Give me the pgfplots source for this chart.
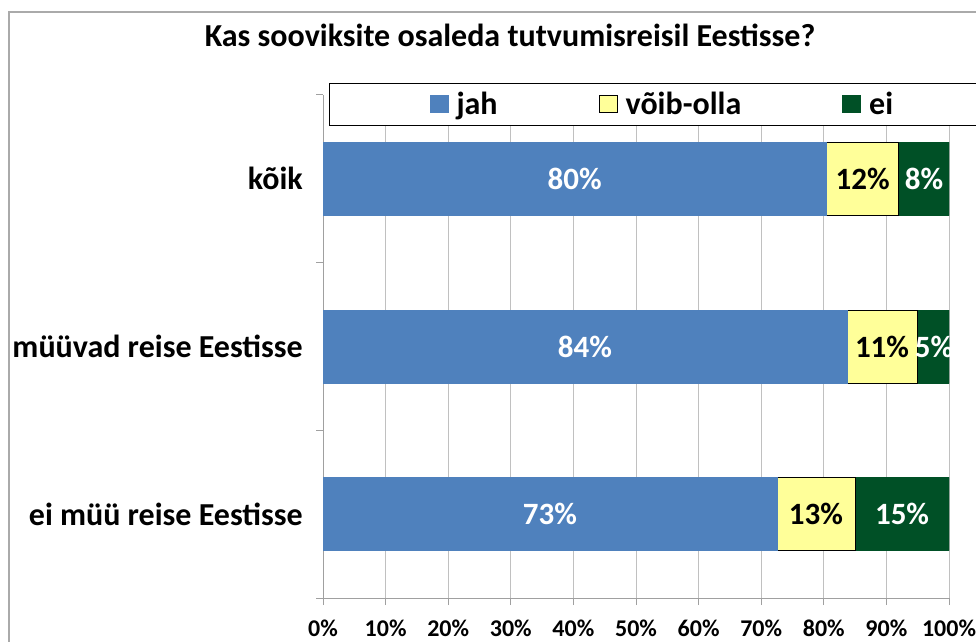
\documentclass[border=0pt]{standalone}
\usepackage{pgfplots}
\pgfplotsset{compat=1.18}
\usepackage{fontspec}
\setmainfont{Carlito}
\definecolor{cblue}{RGB}{79,129,189}
\definecolor{cyellow}{RGB}{255,255,153}
\definecolor{cgreen}{RGB}{0,80,38}
\definecolor{gridgray}{RGB}{192,192,192}
\definecolor{axisgray}{RGB}{160,160,160}
\definecolor{framegray}{RGB}{170,170,170}
\newcommand{\fs}[1]{\fontsize{#1}{#1}\selectfont\bfseries}
\pgfplotsset{
  frame/.style={at={(323pt,43pt)}, anchor=south west,
    scale only axis, width=626pt, height=503pt,
    xmin=0, xmax=100, ymin=-0.5, ymax=2.5},
}
\begin{document}
\begin{tikzpicture}[x=1pt,y=1pt]
\path[use as bounding box, clip] (0,0) rectangle (976,641);
\draw[framegray, line width=1.5pt] (9,-5) -- (9,629) -- (990,629);
\node[font=\fs{32}] at (510,606) {Kas sooviksite osaleda tutvumisreisil Eestisse?};
\begin{axis}[
  frame,
  xbar stacked, bar width=73pt,
  axis x line*=bottom, axis y line*=left,
  axis line style={draw=axisgray, line width=1pt, -},
  xtick={0,10,...,100},
  /pgf/number format/assume math mode=true,
  xticklabel={\pgfmathprintnumber{\tick}\%},
  xticklabel style={font=\fs{24}, inner sep=0pt, yshift=-15pt},
  xmajorgrids, grid style={gridgray, line width=1pt},
  tick align=outside,
  major tick length=7pt,
  tick style={axisgray, line width=1pt},
  ytick={-0.5,0.5,1.5,2.5},
  yticklabels={,,,},
  extra y ticks={0,1,2},
  extra y tick labels={ei müü reise Eestisse, müüvad reise Eestisse, kõik},
  extra y tick style={tick style={draw=none}, yticklabel style={font=\fs{32}, anchor=east, inner sep=0pt, xshift=-13pt}},
  legend style={at={(axis description cs:0.0096,1.0239)}, anchor=north west,
    legend columns=3, draw=black, line width=1pt, fill=white, font=\fs{32},
    inner xsep=100pt, inner ysep=8pt,
    /tikz/every even column/.append style={column sep=100pt},
    /tikz/every odd column/.append style={column sep=7pt},
    nodes={inner sep=1pt}},
  legend image code/.code={\draw[#1, line width=1pt] (0pt,-8.5pt) rectangle (18pt,8.5pt);},
]
\addplot[fill=cblue, draw=cblue] coordinates {(72.5,0) (83.7,1) (80.4,2)};
\addplot[fill=cyellow, draw=black, line width=1pt] coordinates {(12.5,0) (11.2,1) (11.6,2)};
\addplot[fill=cgreen, draw=cgreen] coordinates {(15,0) (5.1,1) (8,2)};
\legend{jah, võib-olla, ei}
\end{axis}
\begin{axis}[frame, hide axis]
\addplot[only marks, mark=none,
  nodes near coords={\pgfplotspointmeta\%}, point meta=explicit symbolic,
  nodes near coords style={anchor=center, text=white, font=\fs{31}}]
  table[meta=lab, row sep=\\] {x y lab\\ 36.25 0 73\\ 41.85 1 84\\ 40.2 2 80\\ 92.5 0 15\\ 97.6 1 5\\ 96.0 2 8\\};
\addplot[only marks, mark=none,
  nodes near coords={\pgfplotspointmeta\%}, point meta=explicit symbolic,
  nodes near coords style={anchor=center, text=black, font=\fs{31}}]
  table[meta=lab, row sep=\\] {x y lab\\ 78.75 0 13\\ 89.3 1 11\\ 86.2 2 12\\};
\end{axis}
\end{tikzpicture}
\end{document}
